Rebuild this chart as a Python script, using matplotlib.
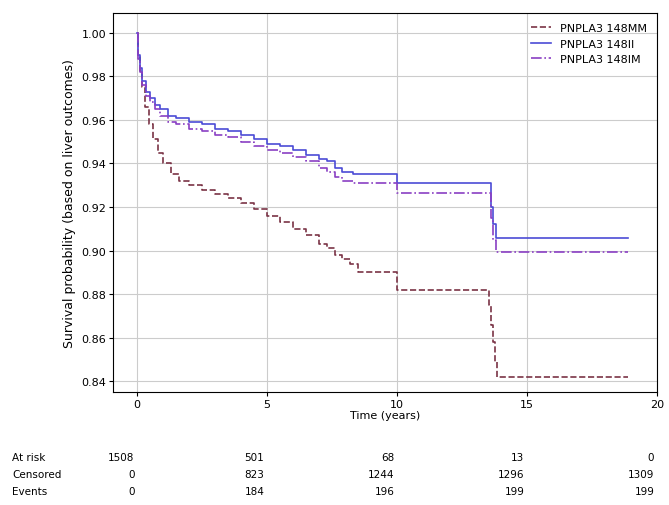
import matplotlib
matplotlib.use("Agg")
import matplotlib.pyplot as plt

# Kaplan-Meier step curves (time in years, survival prob)
t_mm = [0, 0.05, 0.1, 0.2, 0.3, 0.45, 0.6, 0.8, 1.0, 1.3, 1.6, 2.0, 2.5, 3.0, 3.5, 4.0,
        4.5, 5.0, 5.5, 6.0, 6.5, 7.0, 7.3, 7.6, 7.9, 8.2, 8.5, 10.0, 13.55, 13.62, 13.7,
        13.78, 13.85, 18.9]
s_mm = [1.0, 0.99, 0.982, 0.975, 0.966, 0.958, 0.951, 0.945, 0.94, 0.935, 0.932, 0.93,
        0.928, 0.926, 0.924, 0.922, 0.919, 0.916, 0.913, 0.91, 0.907, 0.903, 0.901, 0.898,
        0.896, 0.894, 0.89, 0.882, 0.875, 0.866, 0.858, 0.849, 0.842, 0.842]

t_ii = [0, 0.05, 0.1, 0.2, 0.35, 0.5, 0.7, 0.9, 1.2, 1.5, 2.0, 2.5, 3.0, 3.5, 4.0, 4.5,
        5.0, 5.5, 6.0, 6.5, 7.0, 7.3, 7.6, 7.9, 8.3, 10.0, 13.6, 13.7, 13.8, 18.9]
s_ii = [1.0, 0.99, 0.984, 0.978, 0.973, 0.970, 0.967, 0.965, 0.962, 0.961, 0.959, 0.958,
        0.956, 0.955, 0.953, 0.951, 0.949, 0.948, 0.946, 0.944, 0.942, 0.941, 0.938, 0.936,
        0.935, 0.931, 0.92, 0.912, 0.906, 0.906]

t_im = [0, 0.05, 0.1, 0.2, 0.35, 0.5, 0.7, 0.9, 1.2, 1.5, 2.0, 2.5, 3.0, 3.5, 4.0, 4.5,
        5.0, 5.5, 6.0, 6.5, 7.0, 7.3, 7.6, 7.9, 8.3, 10.0, 13.6, 13.7, 13.8, 18.9]
s_im = [1.0, 0.988, 0.982, 0.976, 0.971, 0.968, 0.965, 0.962, 0.959, 0.958, 0.956, 0.955,
        0.953, 0.952, 0.950, 0.948, 0.946, 0.945, 0.943, 0.941, 0.938, 0.936, 0.934, 0.932,
        0.931, 0.9265, 0.915, 0.905, 0.8995, 0.8995]

labels = ["PNPLA3 148MM", "PNPLA3 148II", "PNPLA3 148IM"]

# at-risk table
risk_times = [0, 5, 10, 15, 20]
at_risk = [1508, 501, 68, 13, 0]
censored = [0, 823, 1244, 1296, 1309]
events = [0, 184, 196, 199, 199]

fig = plt.figure(figsize=(6.69, 5.06), dpi=100)
ax = fig.add_axes([0.169, 0.223, 0.813, 0.749])

ax.step(t_mm, s_mm, where="post", color="#7a3346", ls="--", lw=1.2, label=labels[0])
ax.step(t_ii, s_ii, where="post", color="#4b4bd6", ls="-", lw=1.2, label=labels[1])
ax.step(t_im, s_im, where="post", color="#8a3fc4", ls="-.", lw=1.2, label=labels[2])

ax.set_xlim(-0.92, 20)
ax.set_ylim(0.835, 1.009)
ax.set_xticks(risk_times)
ax.set_yticks([0.84, 0.86, 0.88, 0.90, 0.92, 0.94, 0.96, 0.98, 1.00])
ax.yaxis.set_major_formatter(matplotlib.ticker.FormatStrFormatter("%.2f"))
ax.tick_params(labelsize=8, length=3, pad=2)
ax.grid(True, color="#cccccc", lw=0.8)
ax.set_xlabel("Time (years)", fontsize=8, labelpad=1)
ax.set_ylabel("Survival probability (based on liver outcomes)", fontsize=9)
ax.legend(loc="upper right", fontsize=8, frameon=False, handlelength=1.8)

# at risk counts below the axis
rows = [("At risk", at_risk), ("Censored", censored), ("Events", events)]
for i, (name, vals) in enumerate(rows):
    y = -0.17 - i * 0.045
    fig.text(0.018, 1 - (458 + i * 17) / 506, name, fontsize=7.5, va="center")
    for tx, v in zip(risk_times, vals):
        ax.text(tx - 0.1, y, str(v), transform=ax.get_xaxis_transform(),
                ha="right", va="center", fontsize=7.5)

fig.savefig("out.png", dpi=100)
